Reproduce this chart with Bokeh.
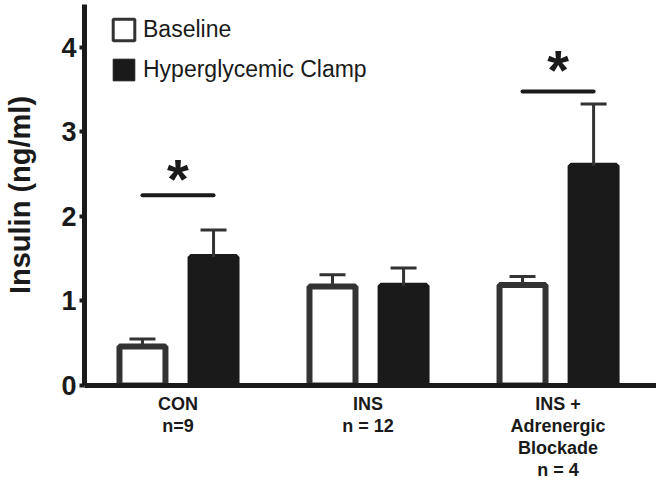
import numpy as np
from bokeh.plotting import figure
from bokeh.models import (ColumnDataSource, Whisker, TeeHead, FixedTicker,
                          Legend, LegendItem, Range1d)
from bokeh.core.properties import value
from bokeh.embed import file_html
from bokeh.resources import INLINE

# ---- data ----
groups = ["CON\nn=9", "INS\nn = 12", "INS +\nAdrenergic\nBlockade\nn = 4"]
baseline = [0.46, 1.17, 1.19]
baseline_err = [0.09, 0.14, 0.10]
clamp = [1.52, 1.18, 2.60]
clamp_err = [0.32, 0.21, 0.73]
sig_groups = [0, 2]
sig_line_y = [2.25, 3.48]
star_y = [2.52, 3.81]
y_ticks = [0, 1, 2, 3, 4]
series_names = ["Baseline", "Hyperglycemic Clamp"]

DARK = "#1a1a1a"
GREY = "#333333"
FONT = "Liberation Sans"
OFF = 0.187
BAR_W = 0.242

idx = list(range(len(groups)))
src_b = ColumnDataSource(dict(x=[i - OFF for i in idx], top=baseline,
                              upper=[v + e for v, e in zip(baseline, baseline_err)]))
src_c = ColumnDataSource(dict(x=[i + OFF for i in idx], top=clamp,
                              upper=[v + e for v, e in zip(clamp, clamp_err)]))

p = figure(width=656, height=483, x_range=Range1d(-0.492, 2.518),
           y_range=Range1d(0, 4.508), output_backend="svg", toolbar_location=None,
           min_border_left=84, min_border_right=0, min_border_top=4,
           min_border_bottom=98)
p.outline_line_color = None
p.xgrid.visible = False
p.ygrid.visible = False

p.vbar(x="x", top="top", width=BAR_W, source=src_b, fill_color="white",
       line_color=GREY, line_width=6)
p.vbar(x="x", top="top", width=BAR_W, source=src_c, fill_color=DARK,
       line_color=DARK, line_width=6)

for src in (src_b, src_c):
    w = Whisker(base="x", lower="top", upper="upper", source=src,
                line_color=GREY, line_width=3, lower_head=None,
                upper_head=TeeHead(size=26, line_color=GREY, line_width=3),
                level="overlay")
    p.add_layout(w)

sig_src = ColumnDataSource(dict(x0=[g - OFF for g in sig_groups],
                                x1=[g + OFF for g in sig_groups],
                                y=sig_line_y, sx=sig_groups, sy=star_y))
p.segment(x0="x0", y0="y", x1="x1", y1="y", source=sig_src,
          line_color=DARK, line_width=4, line_cap="round")
p.text(x="sx", y="sy", text=value("*"), source=sig_src, text_align="center",
       text_baseline="middle", text_font=value(FONT), text_font_style="bold",
       text_font_size="56px", text_color=DARK, y_offset=6)

# legend proxies (a single non-drawn bar each, only used for the legend swatch)
proxy = dict(x=np.array([0.0]), top=np.array([np.nan]))
leg_b = p.vbar(x="x", top="top", width=0.1, source=ColumnDataSource(proxy),
               fill_color="white", line_color=GREY, line_width=3)
leg_c = p.vbar(x="x", top="top", width=0.1, source=ColumnDataSource(dict(proxy)),
               fill_color=DARK, line_color=DARK, line_width=1)
legend = Legend(items=[LegendItem(label=series_names[0], renderers=[leg_b]),
                       LegendItem(label=series_names[1], renderers=[leg_c])],
                location=(26, 302), glyph_width=27, glyph_height=27,
                label_text_font=FONT, label_text_font_size="23px",
                label_text_color=DARK, label_standoff=6, spacing=13,
                padding=0, margin=0, border_line_color=None,
                background_fill_alpha=0)
p.add_layout(legend)

# axes
ya = p.yaxis[0]
ya.ticker = FixedTicker(ticks=y_ticks)
ya.axis_line_width = 5
ya.axis_line_color = DARK
ya.major_tick_out = 5
ya.major_tick_in = 0
ya.major_tick_line_width = 4
ya.major_tick_line_color = DARK
ya.minor_tick_line_color = None
ya.major_label_text_font = FONT
ya.major_label_text_font_style = "bold"
ya.major_label_text_font_size = "27px"
ya.major_label_text_color = DARK
ya.major_label_standoff = 3
ya.axis_label = "Insulin (ng/ml)"
ya.axis_label_text_font = FONT
ya.axis_label_text_font_style = "bold"
ya.axis_label_text_font_size = "29px"
ya.axis_label_text_color = DARK
ya.axis_label_standoff = 22

xa = p.xaxis[0]
xa.ticker = FixedTicker(ticks=idx)
xa.major_label_overrides = {i: g for i, g in zip(idx, groups)}
xa.axis_line_width = 5
xa.axis_line_color = DARK
xa.major_tick_line_color = None
xa.minor_tick_line_color = None
xa.major_label_text_font = FONT
xa.major_label_text_font_style = "bold"
xa.major_label_text_font_size = "18px"
xa.major_label_text_line_height = 1.1
xa.major_label_text_color = DARK
xa.major_label_standoff = 2

open("out.html", "w").write(file_html(p, INLINE))
